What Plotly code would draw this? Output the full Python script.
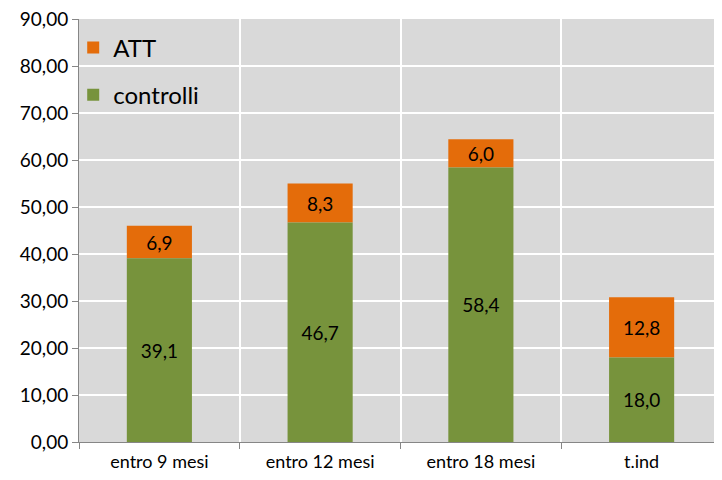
import plotly.graph_objects as go

categories = ["entro 9 mesi", "entro 12 mesi", "entro 18 mesi", "t.ind"]
controlli = [39.1, 46.7, 58.4, 18.0]
att = [6.9, 8.3, 6.0, 12.8]
y_ticks = [0, 10, 20, 30, 40, 50, 60, 70, 80, 90]

FONT = "Lato, 'Open Sans', sans-serif"

fig = go.Figure()
fig.add_trace(go.Bar(
    x=categories, y=att, name="ATT",
    marker=dict(color="#E46C0A", line=dict(width=0)),
    texttemplate="%{y:.1f}", textposition="inside", insidetextanchor="middle",
    textangle=0, constraintext="none",
    textfont=dict(size=19, color="black", family=FONT),
    legendgroup="a", base=controlli,
))
fig.add_trace(go.Bar(
    x=categories, y=controlli, name="controlli",
    marker=dict(color="#77933C", line=dict(width=0)),
    texttemplate="%{y:.1f}", textposition="inside", insidetextanchor="middle",
    textangle=0, constraintext="none",
    textfont=dict(size=19, color="black", family=FONT),
    legendgroup="c",
))

fig.update_layout(
    template="none",
    width=714, height=464,
    barmode="overlay", bargap=0.595,
    separators=",.",
    paper_bgcolor="white", plot_bgcolor="#D9D9D9",
    margin=dict(l=71, r=0, t=11, b=30, pad=0, autoexpand=False),
    font=dict(family=FONT, color="black"),
    legend=dict(
        x=-0.009, y=0.985, xanchor="left", yanchor="top",
        bgcolor="rgba(0,0,0,0)", font=dict(size=24, family=FONT),
        traceorder="grouped", tracegroupgap=13,
    ),
    xaxis=dict(
        type="category", tickson="boundaries", ticks="outside", ticklen=6,
        tickcolor="#868686", showline=True, linecolor="#868686", linewidth=1,
        showgrid=True, gridcolor="white", gridwidth=2, automargin=False,
        tickfont=dict(size=18, family=FONT), range=[-0.5, 3.5],
        ticklabelstandoff=3, ticklabeloverflow="allow",
    ),
    yaxis=dict(
        range=[0, 90], tickvals=y_ticks, tickformat=".2f",
        ticks="outside", ticklen=6, tickcolor="#868686",
        showline=True, linecolor="#868686", linewidth=1, automargin=False,
        showgrid=True, gridcolor="white", gridwidth=2, zeroline=False,
        tickfont=dict(size=19, family=FONT), ticklabeloverflow="allow",
    ),
)

fig.write_html("out.html")
